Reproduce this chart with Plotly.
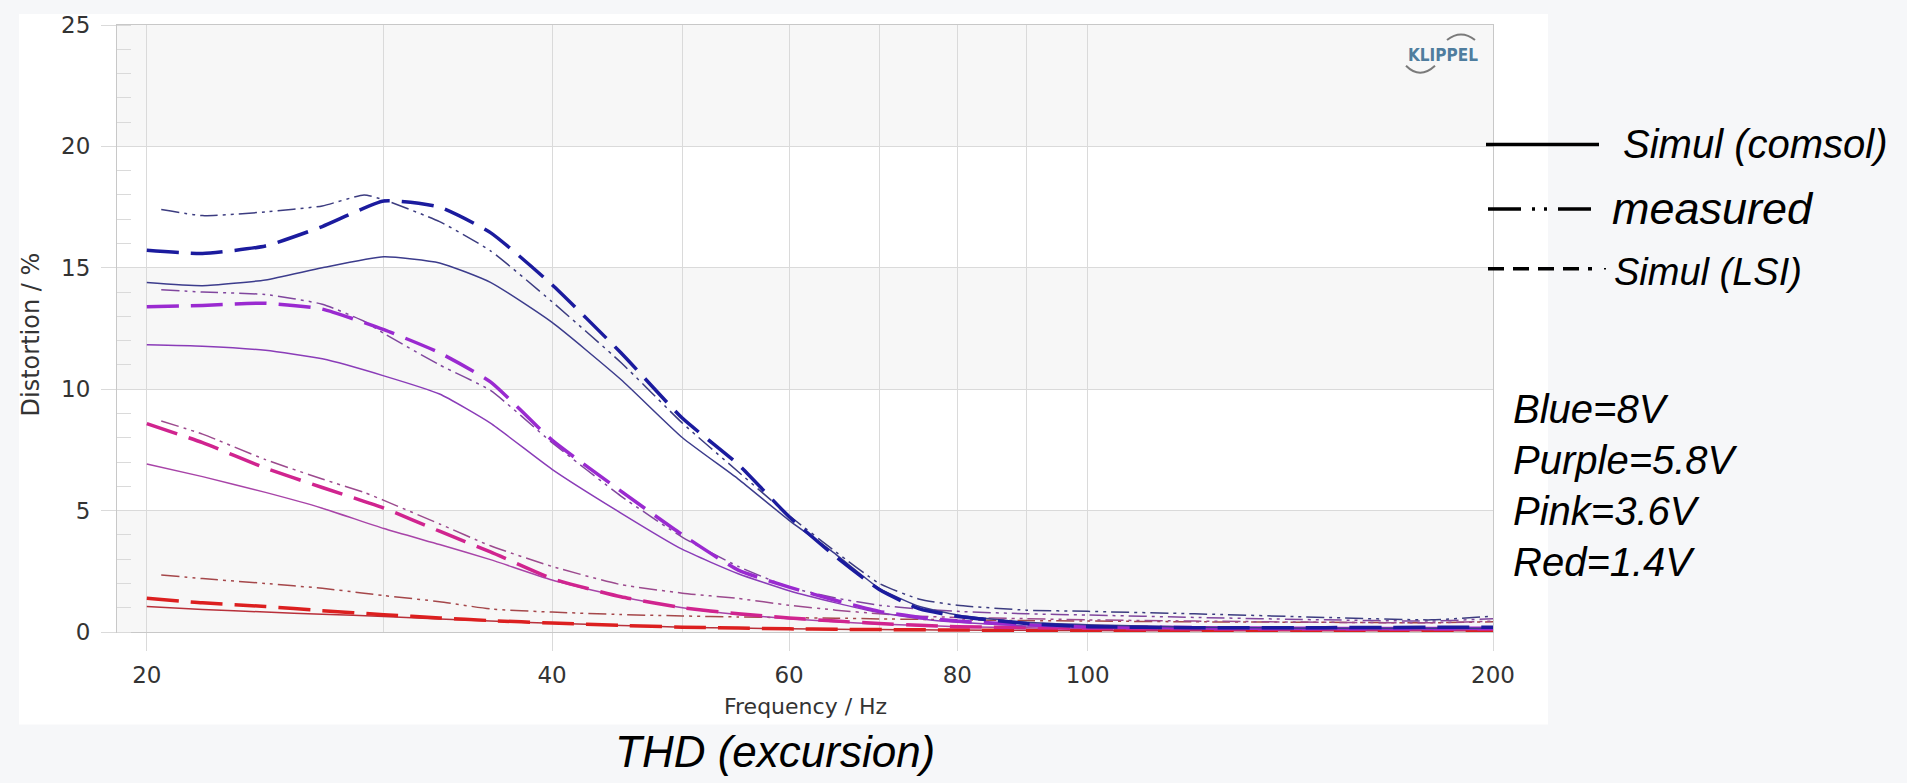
import math
import plotly.graph_objects as go

# ---------------- data ----------------
freq_sim = [20, 22, 24.5, 27, 30, 33, 36, 40, 45, 50, 55, 60, 65, 70, 75, 80, 90, 100, 120, 150, 200]
freq_meas = [20.5, 22, 24.5, 27, 29, 30, 33, 36, 40, 45, 50, 55, 60, 65, 70, 75, 80, 90, 100, 120, 150, 180, 200]

blue_lsi = [15.72, 15.59, 15.9, 16.7, 17.75, 17.5, 16.45, 14.3, 11.5, 8.8, 6.9, 4.75, 3.1, 1.75, 0.95, 0.65, 0.35, 0.22, 0.18, 0.18, 0.2]
blue_comsol = [14.39, 14.26, 14.5, 15.0, 15.45, 15.2, 14.4, 12.75, 10.4, 8.0, 6.3, 4.6, 3.2, 1.8, 1.05, 0.7, 0.4, 0.3, 0.2, 0.15, 0.15]
blue_meas = [17.4, 17.15, 17.3, 17.55, 18.0, 17.8, 16.9, 15.7, 13.6, 11.1, 8.6, 6.6, 4.8, 3.3, 2.0, 1.35, 1.1, 0.9, 0.85, 0.75, 0.6, 0.5, 0.65]

purple_lsi = [13.4, 13.45, 13.54, 13.3, 12.45, 11.5, 10.3, 7.9, 5.8, 4.0, 2.55, 1.85, 1.3, 0.85, 0.6, 0.45, 0.3, 0.22, 0.18, 0.15, 0.15]
purple_comsol = [11.83, 11.77, 11.6, 11.25, 10.55, 9.8, 8.6, 6.7, 4.9, 3.4, 2.4, 1.7, 1.2, 0.8, 0.55, 0.4, 0.25, 0.2, 0.15, 0.12, 0.12]
purple_meas = [14.1, 14.0, 13.9, 13.5, 12.8, 12.3, 11.0, 9.95, 7.8, 5.6, 3.9, 2.7, 1.85, 1.4, 1.1, 0.95, 0.85, 0.75, 0.7, 0.6, 0.5, 0.45, 0.55]

pink_lsi = [8.58, 7.8, 6.75, 5.95, 5.1, 4.15, 3.3, 2.2, 1.45, 1.0, 0.75, 0.58, 0.45, 0.35, 0.28, 0.22, 0.18, 0.15, 0.13, 0.12, 0.12]
pink_comsol = [6.92, 6.4, 5.75, 5.1, 4.26, 3.6, 2.98, 2.14, 1.45, 1.0, 0.72, 0.55, 0.42, 0.33, 0.27, 0.22, 0.17, 0.14, 0.12, 0.1, 0.1]
pink_meas = [8.69, 8.15, 7.1, 6.3, 5.75, 5.42, 4.45, 3.55, 2.7, 1.95, 1.6, 1.38, 1.1, 0.9, 0.75, 0.65, 0.6, 0.55, 0.5, 0.45, 0.4, 0.38, 0.45]

red_lsi = [1.39, 1.2, 1.05, 0.88, 0.71, 0.58, 0.47, 0.37, 0.27, 0.2, 0.16, 0.13, 0.11, 0.1, 0.09, 0.08, 0.07, 0.06, 0.05, 0.05, 0.05]
red_comsol = [1.05, 0.93, 0.82, 0.73, 0.64, 0.54, 0.45, 0.36, 0.27, 0.2, 0.16, 0.13, 0.11, 0.1, 0.09, 0.08, 0.07, 0.06, 0.05, 0.05, 0.05]
red_meas = [2.35, 2.2, 2.0, 1.8, 1.6, 1.5, 1.25, 0.95, 0.82, 0.72, 0.66, 0.62, 0.59, 0.57, 0.54, 0.52, 0.5, 0.47, 0.45, 0.42, 0.4, 0.38, 0.42]

x_tickvals = [20, 40, 60, 80, 100, 200]
x_minor_tickvals = [30, 50, 70, 90]
y_tickvals = [0, 5, 10, 15, 20, 25]

legend_labels = ["Simul (comsol)", "measured", "Simul (LSI)"]
voltage_labels = ["Blue=8V", "Purple=5.8V", "Pink=3.6V", "Red=1.4V"]

# ---------------- layout geometry ----------------
W, H = 1907, 783
ML, MR, MT, MB = 117, 414, 22, 151
PW = W - ML - MR
PH = H - MT - MB


def px(x):
    return (x - ML) / PW


def py(y):
    return (H - MB - y) / PH


fig = go.Figure()

MEAS_DASH = "18px,5px,3px,5px,3px,5px"
LSI_DASH = "32px,12px"

series = [
    # (x, y, color, width, dash)
    (freq_sim, red_comsol, "#b8303a", 1.5, "solid"),
    (freq_meas, red_meas, "#a5474a", 1.5, MEAS_DASH),
    (freq_sim, red_lsi, "#dc1f1f", 3.5, LSI_DASH),
    (freq_sim, pink_comsol, "#a844a8", 1.5, "solid"),
    (freq_meas, pink_meas, "#9c4a8e", 1.5, MEAS_DASH),
    (freq_sim, pink_lsi, "#d0248f", 3.5, LSI_DASH),
    (freq_sim, purple_comsol, "#8a3cb8", 1.5, "solid"),
    (freq_meas, purple_meas, "#80469e", 1.5, MEAS_DASH),
    (freq_sim, purple_lsi, "#9a2ad0", 3.5, LSI_DASH),
    (freq_sim, blue_comsol, "#3c3c8c", 1.5, "solid"),
    (freq_meas, blue_meas, "#3c3c80", 1.5, MEAS_DASH),
    (freq_sim, blue_lsi, "#1b1b9e", 3.5, LSI_DASH),
]
for xs, ys, c, w, d in series:
    fig.add_trace(go.Scatter(x=xs, y=ys, mode="lines",
                             line=dict(color=c, width=w, dash=d, shape="spline", smoothing=0.5),
                             showlegend=False, hoverinfo="skip"))

shapes = []
# white chart box
shapes.append(dict(type="rect", xref="paper", yref="paper", x0=px(19), x1=px(1548), y0=py(725), y1=py(11),
                   fillcolor="white", line=dict(width=0), layer="below"))
# alternating bands
for b0, b1 in [(0, 5), (10, 15), (20, 25)]:
    shapes.append(dict(type="rect", xref="paper", yref="y", x0=0, x1=1, y0=b0, y1=b1,
                       fillcolor="#f7f7f7", line=dict(width=0), layer="below"))
# legend lines
shapes.append(dict(type="line", xref="paper", yref="paper", x0=px(1486), x1=px(1599), y0=py(142), y1=py(142),
                   line=dict(color="black", width=3.5)))
shapes.append(dict(type="line", xref="paper", yref="paper", x0=px(1488), x1=px(1597), y0=py(207), y1=py(207),
                   line=dict(color="black", width=3.5, dash="33px,11px,3px,9px,3px,11px")))
shapes.append(dict(type="line", xref="paper", yref="paper", x0=px(1488), x1=px(1592), y0=py(267), y1=py(267),
                   line=dict(color="black", width=3.5, dash="16px,9px")))
shapes.append(dict(type="line", xref="paper", yref="paper", x0=px(1604), x1=px(1606), y0=py(267), y1=py(267),
                   line=dict(color="black", width=1.5)))
# KLIPPEL logo arcs
shapes.append(dict(type="path", xref="paper", yref="paper",
                   path=f"M {px(1447)},{py(37)} Q {px(1461)},{py(26)} {px(1475)},{py(37)}",
                   line=dict(color="#7a7a7a", width=2)))
shapes.append(dict(type="path", xref="paper", yref="paper",
                   path=f"M {px(1406)},{py(63)} Q {px(1420)},{py(77)} {px(1435)},{py(63)}",
                   line=dict(color="#7a7a7a", width=2)))

ann = []
TXT = dict(family="Liberation Sans, Arial, sans-serif", color="black")
ann.append(dict(xref="paper", yref="paper", x=px(1621), y=py(142), xanchor="left", yanchor="middle",
                text=f"<i>{legend_labels[0]}</i>", showarrow=False, font=dict(size=40, **TXT)))
ann.append(dict(xref="paper", yref="paper", x=px(1610), y=py(206), xanchor="left", yanchor="middle",
                text=f"<i>{legend_labels[1]}</i>", showarrow=False, font=dict(size=45, **TXT)))
ann.append(dict(xref="paper", yref="paper", x=px(1612), y=py(270), xanchor="left", yanchor="middle",
                text=f"<i>{legend_labels[2]}</i>", showarrow=False, font=dict(size=38, **TXT)))
for lab, yc in zip(voltage_labels, [408, 459, 510, 562]):
    ann.append(dict(xref="paper", yref="paper", x=px(1511), y=py(yc), xanchor="left", yanchor="middle",
                    text=f"<i>{lab}</i>", showarrow=False, font=dict(size=40, **TXT)))
ann.append(dict(xref="paper", yref="paper", x=px(775), y=py(752), xanchor="center", yanchor="middle",
                text="<i>THD (excursion)</i>", showarrow=False, font=dict(size=44, **TXT)))
AX = dict(family="DejaVu Sans, sans-serif", color="#333333")
ann.append(dict(xref="paper", yref="paper", x=px(805), y=py(707), xanchor="center", yanchor="middle",
                text="Frequency / Hz", showarrow=False, font=dict(size=22, **AX)))
ann.append(dict(xref="paper", yref="paper", x=px(31), y=py(333), xanchor="center", yanchor="middle",
                text="Distortion / %", textangle=-90, showarrow=False, font=dict(size=24, **AX)))
ann.append(dict(xref="paper", yref="paper", x=px(1443), y=py(52), xanchor="center", yanchor="middle",
                text="<b>KLIPPEL</b>", showarrow=False,
                font=dict(size=17, family="DejaVu Sans Condensed, DejaVu Sans, sans-serif", color="#4f7d9e")))

GRID = "#dadada"
fig.update_layout(
    width=W, height=H, autosize=False,
    margin=dict(l=ML, r=MR, t=MT, b=MB, pad=0),
    paper_bgcolor="#f6f7f9", plot_bgcolor="rgba(0,0,0,0)",
    shapes=shapes, annotations=ann, showlegend=False,
    xaxis=dict(type="log", range=[math.log10(19.006), math.log10(200)],
               tickvals=x_tickvals, ticktext=[str(v) for v in x_tickvals],
               showgrid=True, gridcolor=GRID, gridwidth=1,
               ticks="outside", ticklen=18, tickcolor=GRID, tickwidth=1,
               minor=dict(tickvals=x_minor_tickvals, showgrid=True, gridcolor=GRID, ticks=""),
               showline=True, linecolor="#c8c8c8", mirror=True, zeroline=False,
               tickfont=dict(size=23, **AX), ticklabelstandoff=4),
    yaxis=dict(range=[0, 25], tickvals=y_tickvals, showgrid=True, gridcolor=GRID, gridwidth=1,
               ticks="outside", ticklen=15, tickcolor=GRID, tickwidth=1,
               minor=dict(dtick=1, ticks="inside", ticklen=14, tickcolor=GRID, showgrid=False),
               showline=True, linecolor="#c8c8c8", mirror=True, zeroline=False,
               tickfont=dict(size=23, **AX), ticklabelstandoff=6),
)

fig.write_html("out.html")
